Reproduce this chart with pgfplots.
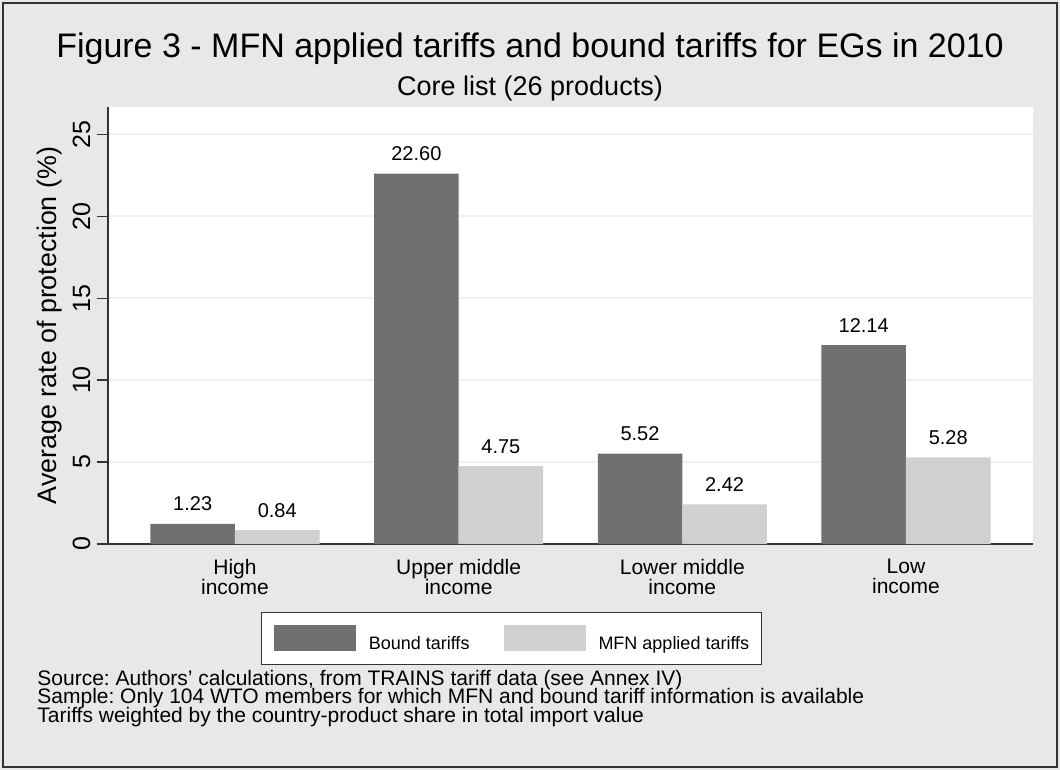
\documentclass[border=0pt]{standalone}
\usepackage{fontspec}
\setmainfont{Liberation Sans}
\usepackage{pgfplots}
\pgfplotsset{compat=1.18}
\definecolor{bgc}{HTML}{E8E8E8}
\definecolor{boundc}{HTML}{707070}
\definecolor{mfnc}{HTML}{D0D0D0}
\definecolor{gridc}{HTML}{EAF2F3}
\definecolor{axc}{HTML}{333333}
\frenchspacing
\newcommand\catfont{\fontsize{10.5}{9.85}\selectfont\lineskiplimit=-20pt\relax}
\begin{document}
\begin{tikzpicture}
\fill[bgc] (0pt,0pt) rectangle (530pt,-385pt);
\draw[axc, line width=0.8pt] (1.5pt,-1.5pt) rectangle (528.5pt,-383.5pt);
\node[anchor=base, font=\fontsize{17}{20}\selectfont] at (265pt,-29pt) {Figure 3 - MFN applied tariffs and bound tariffs for EGs in 2010};
\node[anchor=base, font=\fontsize{13.5}{16}\selectfont] at (265pt,-48pt) {Core list (26 products)};
\node[anchor=base west, inner sep=0pt, font=\fontsize{10.5}{9.3}\selectfont] at (18.5pt,-342.5pt) {Source: Authors’ calculations, from TRAINS tariff data (see Annex IV)};
\node[anchor=base west, inner sep=0pt, font=\fontsize{10.5}{9.3}\selectfont] at (18.5pt,-351.5pt) {Sample: Only 104 WTO members for which MFN and bound tariff information is available};
\node[anchor=base west, inner sep=0pt, font=\fontsize{10.5}{9.3}\selectfont] at (18.5pt,-361pt) {Tariffs weighted by the country-product share in total import value};
\begin{axis}[
  at={(53.85pt,-272pt)}, anchor=south west,
  scale only axis, width=462.65pt, height=218.5pt,
  xmin=-0.569, xmax=3.568, ymin=0, ymax=26.66,
  axis x line*=bottom, axis y line*=left,
  axis line style={-, line width=0.8pt, axc},
  axis background/.style={fill=white},
  /pgf/number format/assume math mode=true,
  xtick={0,1,2,3},
  xticklabels={\vphantom{Hg}High\\income, \vphantom{Hg}Upper middle\\income, \vphantom{Hg}Lower middle\\income, \vphantom{Hg}Low\\income},
  x tick style={draw=none},
  xticklabel style={align=center, font=\catfont, inner sep=0pt, yshift=-2pt},
  ytick={0,5,10,15,20,25},
  tick align=outside, major tick length=5.5pt,
  y tick style={axc, line width=0.6pt},
  yticklabel style={rotate=90, anchor=south, inner xsep=0pt, inner ysep=3pt, font=\fontsize{12.5}{14}\selectfont},
  ymajorgrids, grid style={gridc, line width=0.8pt},
  ylabel={Average rate of protection (\%)},
  every axis y label/.style={at={(axis description cs:-0.0624,0.5)}, rotate=90, anchor=center, font=\fontsize{13.4}{15}\selectfont},
  nodes near coords,
  nodes near coords style={font=\fontsize{10}{12}\selectfont, anchor=base, inner sep=0pt, yshift=6.5pt,
    /pgf/number format/.cd, fixed, fixed zerofill, precision=2},
  legend columns=2,
  legend style={at={(axis description cs:0.4364,-0.1556)}, anchor=north,
    draw=axc, fill=white, line width=0.6pt,
    font=\fontsize{9}{11}\selectfont,
    inner xsep=6pt, inner ysep=6pt,
    nodes={inner sep=0pt},
    /tikz/every even column/.append style={column sep=17pt},
    /tikz/every odd column/.append style={column sep=6.5pt}},
]
\addplot[ybar, bar width=0.378, bar shift=0pt, fill=boundc, draw=none,
  legend image code/.code={\fill[boundc] (0pt,-3pt) rectangle (41pt,10pt);}]
  coordinates {(-0.189,1.23) (0.811,22.60) (1.811,5.52) (2.811,12.14)};
\addlegendentry{Bound tariffs}
\addplot[ybar, bar width=0.378, bar shift=0pt, fill=mfnc, draw=none,
  legend image code/.code={\fill[mfnc] (0pt,-3pt) rectangle (41pt,10pt);}]
  coordinates {(0.189,0.84) (1.189,4.75) (2.189,2.42) (3.189,5.28)};
\addlegendentry{MFN applied tariffs}
\end{axis}
\end{tikzpicture}
\end{document}
